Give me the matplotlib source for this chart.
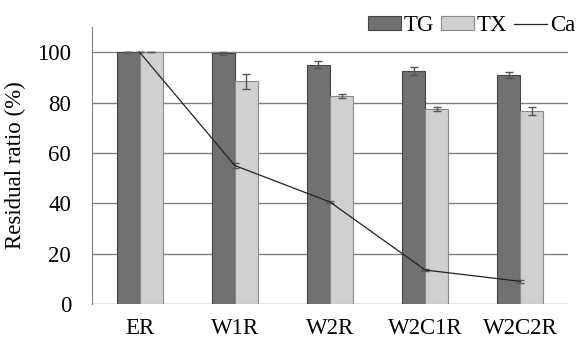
import matplotlib as mpl
mpl.use("Agg")
import matplotlib.pyplot as plt
from matplotlib.lines import Line2D
from matplotlib.patches import Patch
import numpy as np

# data
categories = ["ER", "W1R", "W2R", "W2C1R", "W2C2R"]
tg_values = [100, 99.5, 95, 92.5, 91]
tg_errors = [0, 0.6, 1.3, 1.5, 1.2]
tx_values = [100, 88.5, 82.5, 77.5, 76.5]
tx_errors = [0, 3.0, 0.8, 0.9, 1.6]
ca_values = [100, 55, 40.5, 13.5, 9]
ca_errors = [0, 1.0, 0.5, 0.5, 0.5]

plt.rcParams["font.family"] = ["Liberation Serif", "DejaVu Serif"]

fig = plt.figure(figsize=(5.82, 3.4), dpi=100)
ax = fig.add_axes([92 / 582, 1 - 304 / 340, 476 / 582, 277 / 340])

x = np.arange(len(categories))
width = 0.242
err_kw = dict(ecolor="#555555", elinewidth=1.0, capsize=3, capthick=1.0)

tg_color, tg_edge = "#717171", "#454545"
tx_color, tx_edge = "#d0d0d0", "#8a8a8a"

ax.bar(x - width / 2, tg_values, width, yerr=tg_errors, color=tg_color,
       edgecolor=tg_edge, linewidth=0.8, error_kw=err_kw, zorder=3)
ax.bar(x + width / 2, tx_values, width, yerr=tx_errors, color=tx_color,
       edgecolor=tx_edge, linewidth=0.8, error_kw=err_kw, zorder=3)
ax.errorbar(x, ca_values, yerr=ca_errors, color="#222222", linewidth=0.9,
            ecolor="#555555", elinewidth=0.8, capsize=3, zorder=4)

ax.set_xlim(-0.5, len(categories) - 0.5)
ax.set_ylim(0, 110)
ax.set_yticks([0, 20, 40, 60, 80, 100])
ax.set_xticks(x)
ax.set_xticklabels(categories)
ax.yaxis.grid(True, color="#808080", linewidth=1.0, zorder=0)
ax.set_axisbelow(True)
ax.tick_params(axis="both", length=0, labelsize=16.5, colors="black")
ax.tick_params(axis="y", pad=15)
ax.tick_params(axis="x", pad=10)
for side in ["top", "right", "bottom"]:
    ax.spines[side].set_visible(False)
ax.spines["left"].set_color("#808080")
ax.set_ylabel("Residual ratio (%)", fontsize=16.5, labelpad=8)

handles = [
    Patch(facecolor=tg_color, edgecolor=tg_edge, linewidth=0.8),
    Patch(facecolor=tx_color, edgecolor=tx_edge, linewidth=0.8),
    Line2D([], [], color="#222222", linewidth=0.9),
]
ax.legend(handles, ["TG", "TX", "Ca"], loc="upper right",
          bbox_to_anchor=(1.035, 1.075), ncol=3, frameon=False,
          fontsize=16.5, handlelength=1.45, handleheight=0.55,
          handletextpad=0.12, columnspacing=0.3, borderaxespad=0)

plt.savefig("out.png", dpi=100)
